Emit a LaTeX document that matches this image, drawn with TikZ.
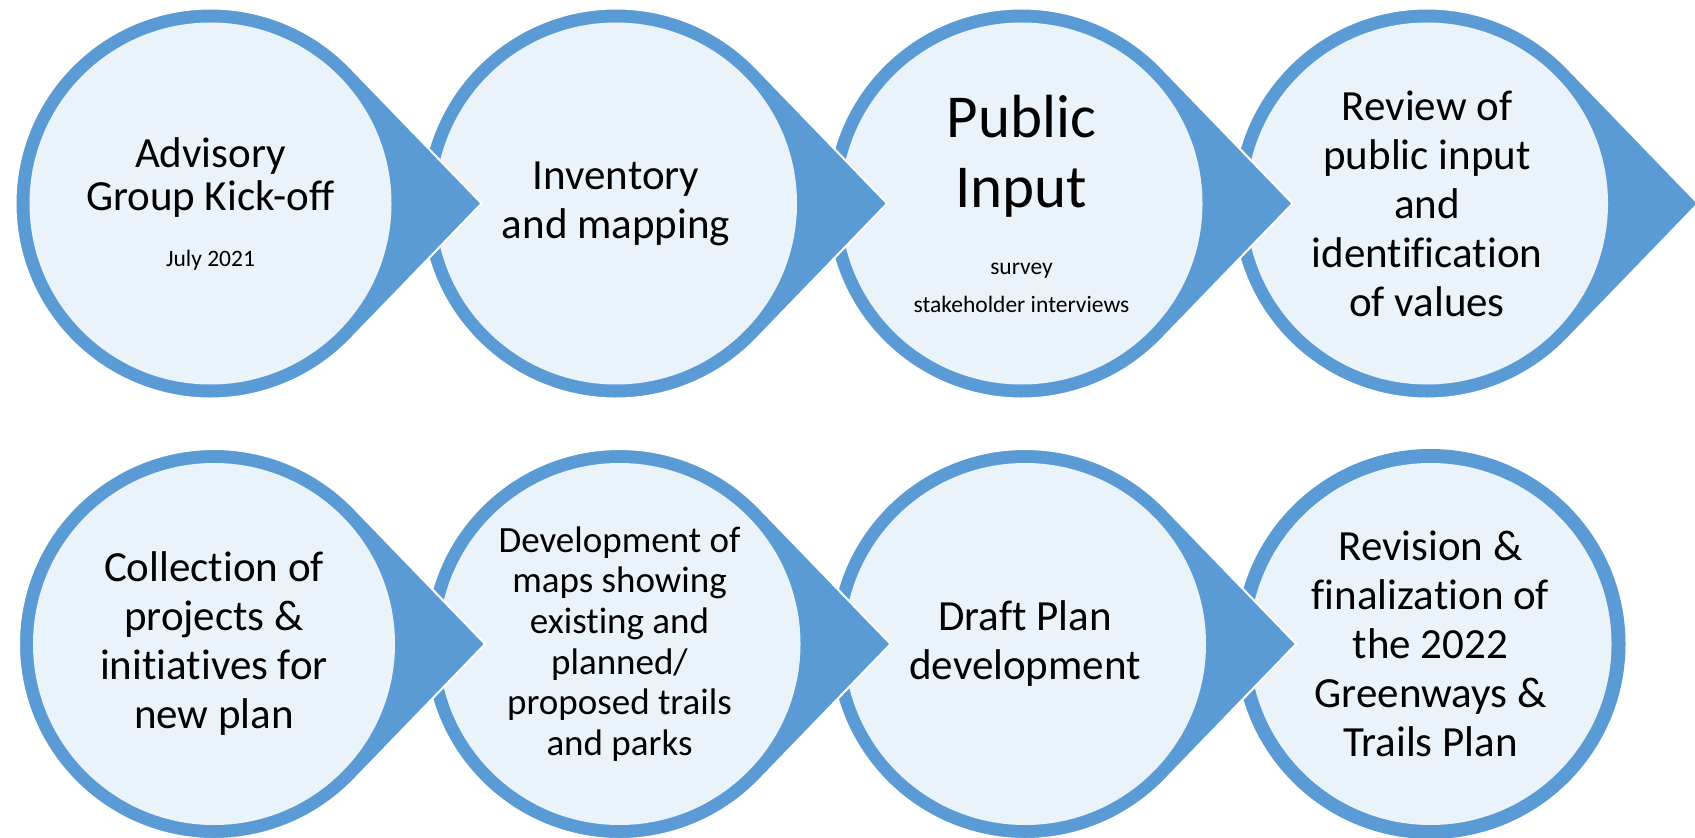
\documentclass[tikz,border=0pt]{standalone}
\usepackage{fontspec}
\setmainfont{Carlito}[Ligatures={TeX,NoCommon}]
\usetikzlibrary{calc}
\definecolor{stepblue}{RGB}{91, 155, 213}
\definecolor{steplight}{RGB}{235, 243, 250}
\newcommand{\smalltxt}{\fontsize{11.75}{14}\selectfont}

\tikzset{
  teardrop/.style={fill=stepblue, draw=white, line width=1pt, line join=miter},
  stepcircle/.style={circle, fill=steplight, minimum size=181pt, inner sep=0pt,
    align=center, font=\fontsize{21.5}{24.5}\selectfont},
}

\begin{document}
\begin{tikzpicture}[x=0.5pt, y=0.5pt]
  \useasboundingbox (0,0) rectangle (1695,837);

  % TOP ROW (drawn right to left, so every tip lies over the next circle)
  % Step 4: review
  \coordinate (c4) at (1427,633.5);
  \draw[teardrop] (c4) ++(44:195) arc[start angle=44, end angle=316, radius=195]
    -- ($(c4)+(271.1,0)$) -- cycle;
  \node[stepcircle] (review) at (c4)
    {Review of\\public input\\and\\identification\\of values};

  % Step 3: public input
  \coordinate (c3) at (1021.5,633.5);
  \draw[teardrop] (c3) ++(44:195) arc[start angle=44, end angle=316, radius=195]
    -- ($(c3)+(271.1,0)$) -- cycle;
  \node[stepcircle, font=\fontsize{30.5}{35}\selectfont] (public) at (c3)
    {Public\\Input\\[-1.15pt]{\smalltxt survey}\\[-16.35pt]{\smalltxt stakeholder interviews}};

  % Step 2: inventory
  \coordinate (c2) at (616,633.5);
  \draw[teardrop] (c2) ++(44:195) arc[start angle=44, end angle=316, radius=195]
    -- ($(c2)+(271.1,0)$) -- cycle;
  \node[stepcircle] (inventory) at (c2) {Inventory\\and mapping};

  % Step 1: kick-off
  \coordinate (c1) at (210.5,633.5);
  \draw[teardrop] (c1) ++(44:195) arc[start angle=44, end angle=316, radius=195]
    -- ($(c1)+(271.1,0)$) -- cycle;
  \node[stepcircle] (kickoff) at (c1)
    {Advisory\\[-3pt]Group Kick-off\\[3.5pt]{\smalltxt July 2021}};

  % BOTTOM ROW
  % Step 8: final plan (no tip)
  \coordinate (c8) at (1430.5,193);
  \fill[stepblue] (c8) circle[radius=195];
  \node[stepcircle] (final) at (c8)
    {Revision \&\\finalization of\\the 2022\\Greenways \&\\Trails Plan};

  % Step 7: draft plan
  \coordinate (c7) at (1025,193);
  \draw[teardrop] (c7) ++(44:195) arc[start angle=44, end angle=316, radius=195]
    -- ($(c7)+(271.1,0)$) -- cycle;
  \node[stepcircle] (draft) at (c7) {Draft Plan\\development};

  % Step 6: maps
  \coordinate (c6) at (619.5,193);
  \draw[teardrop] (c6) ++(44:195) arc[start angle=44, end angle=316, radius=195]
    -- ($(c6)+(271.1,0)$) -- cycle;
  \node[stepcircle, font=\fontsize{18.5}{20.35}\selectfont] (maps) at (c6)
    {Development of\\maps showing\\existing and\\planned/\\proposed trails\\and parks};

  % Step 5: collection
  \coordinate (c5) at (214,193);
  \draw[teardrop] (c5) ++(44:195) arc[start angle=44, end angle=316, radius=195]
    -- ($(c5)+(271.1,0)$) -- cycle;
  \node[stepcircle] (collection) at (c5)
    {Collection of\\projects \&\\initiatives for\\new plan};
\end{tikzpicture}
\end{document}
